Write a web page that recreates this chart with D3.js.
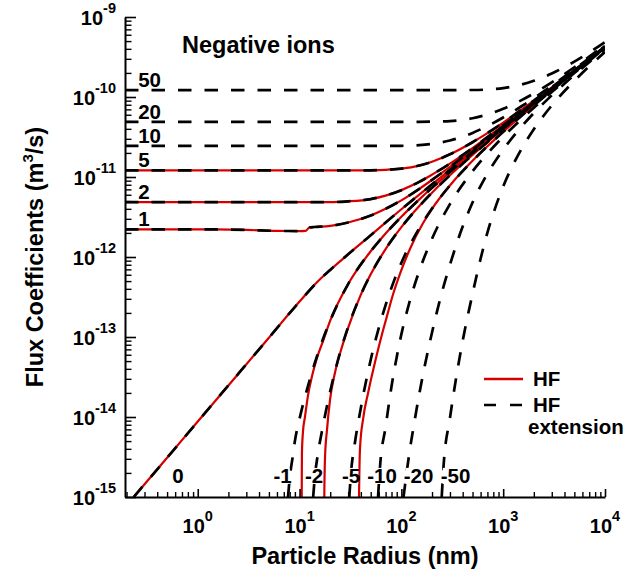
<!DOCTYPE html>
<html>
<head>
<meta charset="utf-8">
<script src="https://cdn.jsdelivr.net/npm/d3@7"></script>
<style>
  body { margin: 0; background: #fff; }
  svg { display: block; font-family: "Liberation Sans", Arial, Helvetica, sans-serif; font-weight: bold; }
</style>
</head>
<body>
<svg id="chart" width="631" height="578"></svg>
<script>
// Flux coefficients of negative ions onto particles of charge z, vs particle radius.
// Each series: [radius (nm), flux coefficient (m^3/s)].

const radiusDomain = [0.193, 1e4];
const fluxDomain = [1e-15, 1e-9];

// positively charged particles (HF extension only)
const extP50 = [[0.193,1.22e-10],[300,1.22e-10],[500,1.224e-10],[700,1.24e-10],[1000,1.29e-10],[1500,1.426e-10],[2000,1.593e-10],[3000,1.967e-10],[5000,2.769e-10],[7000,3.592e-10],[10000,4.84e-10]];
const extP20 = [[0.193,4.9e-11],[150,4.9e-11],[200,4.916e-11],[300,5.0e-11],[500,5.43e-11],[700,6.04e-11],[1000,7.12e-11],[1500,9.07e-11],[2000,1.109e-10],[3000,1.521e-10],[5000,2.354e-10],[7000,3.192e-10],[10000,4.45e-10]];
const extP10 = [[0.193,2.45e-11],[70,2.45e-11],[100,2.456e-11],[150,2.5e-11],[200,2.589e-11],[300,2.858e-11],[500,3.557e-11],[700,4.332e-11],[1000,5.544e-11],[1500,7.605e-11],[2000,9.68e-11],[3000,1.386e-10],[5000,2.225e-10],[7000,3.064e-10],[10000,4.324e-10]];

// HF and its extension coincide for these charges
const fluxP5 = [[0.193,1.21e-11],[40,1.21e-11],[70,1.23e-11],[100,1.27e-11],[150,1.39e-11],[200,1.55e-11],[300,1.92e-11],[500,2.72e-11],[700,3.54e-11],[1000,4.77e-11],[1500,6.9e-11],[2000,9.0e-11],[3000,1.32e-10],[5000,2.16e-10],[7000,3.0e-10],[10000,4.26e-10]];
const fluxP2 = [[0.193,4.85e-12],[20,4.85e-12],[30,4.96e-12],[50,5.3e-12],[70,5.85e-12],[100,6.85e-12],[150,8.7e-12],[200,1.07e-11],[300,1.47e-11],[500,2.3e-11],[700,3.15e-11],[1000,4.42e-11],[1500,6.52e-11],[2000,8.62e-11],[3000,1.283e-10],[5000,2.123e-10],[7000,2.963e-10],[10000,4.224e-10]];
const fluxP1 = [[0.193,2.22e-12],[1.5,2.21e-12],[3,2.18e-12],[6,2.12e-12],[10,2.11e-12],[11.5,2.12e-12],[12.5,2.34e-12],[14,2.37e-12],[20,2.45e-12],[30,2.7e-12],[50,3.3e-12],[70,4.0e-12],[100,5.1e-12],[150,7.1e-12],[200,9.2e-12],[300,1.34e-11],[500,2.19e-11],[700,3.03e-11],[1000,4.29e-11],[1500,6.4e-11],[2000,8.5e-11],[3000,1.27e-10],[5000,2.11e-10],[7000,2.95e-10],[10000,4.21e-10]];
const flux0 = [[0.235,1e-15],[0.5,3.1e-15],[1,8.77e-15],[2,2.48e-14],[5,9.8e-14],[10,2.77e-13],[15,4.9e-13],[20,6.9e-13],[30,1.08e-12],[50,1.87e-12],[100,3.95e-12],[200,8.1e-12],[500,2.07e-11],[1000,4.16e-11],[2000,8.36e-11],[5000,2.096e-10],[10000,4.2e-10]];

// negatively charged particles: HF extension
const extM1 = [[7.7,1e-15],[8.0,1.7e-15],[8.6,3.3e-15],[9.0,5.0e-15],[10,9.5e-15],[12,2.35e-14],[15,6.0e-14],[20,1.6e-13],[30,4.588e-13],[50,1.18e-12],[70,1.966e-12],[100,3.185e-12],[150,5.253e-12],[200,7.337e-12],[300,1.152e-11],[500,1.991e-11],[700,2.832e-11],[1000,4.09e-11],[1500,6.19e-11],[2000,8.29e-11],[3000,1.249e-10],[5000,2.089e-10],[7000,2.929e-10],[10000,4.189e-10]];
const extM2 = [[13.6,1e-15],[14.2,1.9e-15],[15,3.2e-15],[17,7.8e-15],[20,2.1e-14],[25,6.4e-14],[30,1.339e-13],[40,3.384e-13],[50,6.073e-13],[70,1.2555e-12],[100,2.36e-12],[150,4.334e-12],[200,6.369e-12],[300,1.0505e-11],[500,1.885e-11],[700,2.723e-11],[1000,3.982e-11],[1500,6.08e-11],[2000,8.179e-11],[3000,1.238e-10],[5000,2.078e-10],[7000,2.918e-10],[10000,4.178e-10]];
const extM5 = [[30.8,1e-15],[32,2.0e-15],[35,4.8e-15],[40,1.3e-14],[50,5.2e-14],[60,1.3e-13],[70,2.5e-13],[85,5.1e-13],[100,8.461e-13],[150,2.294e-12],[200,4.03e-12],[300,7.844e-12],[500,1.592e-11],[700,2.419e-11],[1000,3.668e-11],[1500,5.761e-11],[2000,7.856e-11],[3000,1.2052e-10],[5000,2.045e-10],[7000,2.884e-10],[10000,4.145e-10]];
const extM10 = [[59,1e-15],[62,2.6e-15],[70,7.5e-15],[80,2.4e-14],[90,5.6e-14],[100,1.08e-13],[120,2.72e-13],[150,6.7e-13],[200,1.692e-12],[300,4.588e-12],[500,1.18e-11],[700,1.966e-11],[1000,3.185e-11],[1500,5.253e-11],[2000,7.337e-11],[3000,1.152e-10],[5000,1.991e-10],[7000,2.832e-10],[10000,4.09e-10]];
const extM20 = [[105,1e-15],[110,1.6e-15],[120,3.6e-15],[135,9.0e-15],[150,1.95e-14],[170,4.4e-14],[200,1.14e-13],[250,3.6e-13],[300,8.0e-13],[400,2.4e-12],[500,4.8e-12],[700,1.1e-11],[1000,2.2e-11],[1500,4.2e-11],[2000,6.3e-11],[3000,1.05e-10],[5000,1.885e-10],[7000,2.723e-10],[10000,3.982e-10]];
const extM50 = [[249,1e-15],[260,2.5e-15],[300,9.7e-15],[350,3.44e-14],[400,8.9e-14],[500,3.46e-13],[600,9.5e-13],[700,2.02e-12],[850,4.38e-12],[1000,7.6e-12],[1500,2.2e-11],[2000,3.95e-11],[3000,7.844e-11],[5000,1.592e-10],[7000,2.419e-10],[10000,3.668e-10]];

// negatively charged particles: HF
const hfM1 = [[10.45,3e-16],[10.5,1e-15],[10.55,3.5e-15],[10.8,6.5e-15],[11.3,1.0e-14],[12.1,1.85e-14],[13.3,3.3e-14],[14.9,5.6e-14],[17,8.9e-14],[20,1.6e-13],[30,4.588e-13],[50,1.18e-12],[70,1.966e-12],[100,3.185e-12],[150,5.253e-12],[200,7.337e-12],[300,1.152e-11],[500,1.991e-11],[700,2.832e-11],[1000,4.09e-11],[1500,6.19e-11],[2000,8.29e-11],[3000,1.249e-10],[5000,2.089e-10],[7000,2.929e-10],[10000,4.189e-10]];
const hfM2 = [[17.45,3e-16],[17.5,1e-15],[17.8,3.2e-15],[18.6,6.9e-15],[19.9,1.63e-14],[22.3,3.6e-14],[26,7.4e-14],[30,1.3e-13],[40,3.384e-13],[50,6.073e-13],[70,1.2555e-12],[100,2.36e-12],[150,4.334e-12],[200,6.369e-12],[300,1.0505e-11],[500,1.885e-11],[700,2.723e-11],[1000,3.982e-11],[1500,6.08e-11],[2000,8.179e-11],[3000,1.238e-10],[5000,2.078e-10],[7000,2.918e-10],[10000,4.178e-10]];
const hfM5 = [[38.3,3e-16],[38.4,1e-15],[39.3,4.2e-15],[42.1,9.5e-15],[47.1,2.0e-14],[55.2,4.9e-14],[64.6,1.09e-13],[72.4,1.85e-13],[82.9,3.42e-13],[97.1,6.2e-13],[121.7,1.27e-12],[163,2.64e-12],[200,4.0e-12],[300,7.844e-12],[500,1.592e-11],[700,2.419e-11],[1000,3.668e-11],[1500,5.761e-11],[2000,7.856e-11],[3000,1.2052e-10],[5000,2.045e-10],[7000,2.884e-10],[10000,4.145e-10]];

// particle charge labels
const upperCharges = ["50", "20", "10", "5", "2", "1"];
const upperSeries = [extP50, extP20, extP10, fluxP5, fluxP2, fluxP1];
const lowerCharges = ["0", "-1", "-2", "-5", "-10", "-20", "-50"];
const lowerLabelRadius = [0.64, 6.81, 13.9, 32.1, 64.6, 147.6, 340.7];
const lowerLabelFlux = 1.5e-15;

const hfSeries = [fluxP5, fluxP2, fluxP1, flux0, hfM1, hfM2, hfM5];
const extensionSeries = [extP50, extP20, extP10, fluxP5, fluxP2, fluxP1, flux0, extM1, extM2, extM5, extM10, extM20, extM50];

const xMajor = [1, 10, 100, 1000, 10000];
const yMajor = [1e-15, 1e-14, 1e-13, 1e-12, 1e-11, 1e-10, 1e-9];

// ---- layout ----
const svg = d3.select("#chart");
const plotL = 125, plotR = 605, plotT = 17, plotB = 497;
const red = "#d40000";

const x = d3.scaleLog().domain(radiusDomain).range([plotL, plotR]);
const y = d3.scaleLog().domain(fluxDomain).range([plotB, plotT]);

function minorTicks(domain) {
  const out = [];
  const lo = Math.floor(Math.log10(domain[0])), hi = Math.ceil(Math.log10(domain[1]));
  for (let e = lo; e < hi; e++) {
    for (let m = 2; m <= 9; m++) {
      const v = m * Math.pow(10, e);
      if (v >= domain[0] && v <= domain[1]) out.push(v);
    }
  }
  return out;
}

svg.append("defs").append("clipPath").attr("id", "plot")
  .append("rect").attr("x", plotL).attr("y", plotT)
  .attr("width", plotR - plotL).attr("height", plotB - plotT);

const line = d3.line()
  .x(d => x(d[0]))
  .y(d => y(d[1]))
  .curve(d3.curveMonotoneX);

const curves = svg.append("g").attr("clip-path", "url(#plot)");

curves.selectAll("path.hf")
  .data(hfSeries).join("path")
  .attr("class", "hf")
  .attr("d", line)
  .attr("fill", "none")
  .attr("stroke", red)
  .attr("stroke-width", 2.2);

curves.selectAll("path.ext")
  .data(extensionSeries).join("path")
  .attr("class", "ext")
  .attr("d", line)
  .attr("fill", "none")
  .attr("stroke", "#000")
  .attr("stroke-width", 2.7)
  .attr("stroke-dasharray", "13.5,13");

// ---- axes ----
function styleAxis(g, w) {
  g.selectAll("path.domain").attr("stroke", "#000").attr("stroke-width", 2);
  g.selectAll(".tick line").attr("stroke", "#000").attr("stroke-width", w);
}

const xMinorG = svg.append("g").attr("transform", `translate(0,${plotB})`)
  .call(d3.axisBottom(x).tickValues(minorTicks(radiusDomain)).tickSize(-5).tickSizeOuter(0).tickFormat(""));
xMinorG.select("path.domain").remove();
styleAxis(xMinorG, 1.4);

const xMajorG = svg.append("g").attr("transform", `translate(0,${plotB})`)
  .call(d3.axisBottom(x).tickValues(xMajor).tickSize(-8).tickSizeOuter(0).tickFormat(""));
styleAxis(xMajorG, 1.6);

const yMinorG = svg.append("g").attr("transform", `translate(${plotL},0)`)
  .call(d3.axisLeft(y).tickValues(minorTicks(fluxDomain)).tickSize(-6.5).tickSizeOuter(0).tickFormat(""));
yMinorG.select("path.domain").remove();
styleAxis(yMinorG, 1.4);

const yMajorG = svg.append("g").attr("transform", `translate(${plotL},0)`)
  .call(d3.axisLeft(y).tickValues(yMajor).tickSize(-11).tickSizeOuter(0).tickFormat(""));
styleAxis(yMajorG, 1.6);

// power-of-ten tick labels
function powerLabel(g, v, px, py, anchor) {
  const t = g.append("text").attr("x", px).attr("y", py)
    .attr("text-anchor", anchor).attr("font-size", 20).attr("fill", "#000");
  t.append("tspan").text("10");
  t.append("tspan").attr("dy", -12).attr("font-size", 14.5)
    .text(String(Math.round(Math.log10(v))));
}
const tickLabels = svg.append("g");
xMajor.forEach(v => powerLabel(tickLabels, v, x(v), plotB + 36, "middle"));
yMajor.forEach(v => powerLabel(tickLabels, v, plotL - 9, y(v) + 8, "end"));

// axis titles
svg.append("text")
  .attr("x", 365).attr("y", 564)
  .attr("text-anchor", "middle").attr("font-size", 23.5)
  .text("Particle Radius (nm)");

const yTitle = svg.append("text")
  .attr("transform", "translate(43,257) rotate(-90)")
  .attr("text-anchor", "middle").attr("font-size", 23.5);
yTitle.append("tspan").text("Flux Coefficients (m");
yTitle.append("tspan").attr("dy", -10).attr("font-size", 15).text("3");
yTitle.append("tspan").attr("dy", 10).text("/s)");

// panel title
svg.append("text")
  .attr("x", 182).attr("y", 53)
  .attr("font-size", 23.5)
  .text("Negative ions");

// charge labels on the flat branches
const labelG = svg.append("g");
upperSeries.forEach((s, i) => {
  labelG.append("text")
    .attr("x", x(0.26)).attr("y", y(s[0][1]) - 3)
    .attr("font-size", 20.5)
    .text(upperCharges[i]);
});

// charge labels along the bottom, on white boxes
lowerCharges.forEach((c, i) => {
  const g = labelG.append("g");
  const t = g.append("text")
    .attr("x", x(lowerLabelRadius[i])).attr("y", y(lowerLabelFlux))
    .attr("text-anchor", "middle")
    .attr("font-size", 20.5)
    .text(c);
  const bb = t.node().getBBox();
  g.insert("rect", "text")
    .attr("x", bb.x + 2).attr("y", y(lowerLabelFlux) - 15)
    .attr("width", Math.max(0, bb.width - 4)).attr("height", 16)
    .attr("fill", "#fff");
});

// legend
const legend = svg.append("g");
legend.append("line")
  .attr("x1", 484).attr("x2", 523).attr("y1", 379).attr("y2", 379)
  .attr("stroke", red).attr("stroke-width", 2.4);
legend.append("text").attr("x", 533).attr("y", 386).attr("font-size", 20.5).text("HF");
legend.append("line")
  .attr("x1", 484).attr("x2", 522).attr("y1", 405).attr("y2", 405)
  .attr("stroke", "#000").attr("stroke-width", 2.7)
  .attr("stroke-dasharray", "12,14");
legend.append("text").attr("x", 533).attr("y", 412).attr("font-size", 20.5).text("HF");
legend.append("text").attr("x", 528).attr("y", 434).attr("font-size", 20.5).text("extension");
</script>
</body>
</html>
